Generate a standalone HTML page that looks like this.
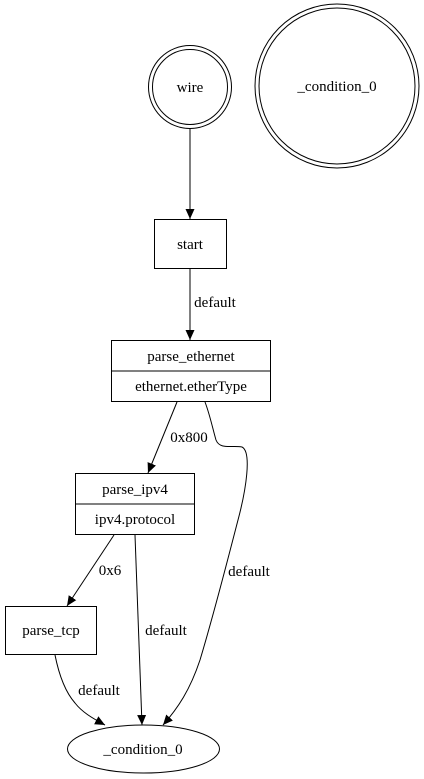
<!DOCTYPE html>
<html><head><style>body{margin:0;background:#fff}svg{display:block}text{font-family:"Liberation Serif","DejaVu Serif",Times,serif;font-size:15px}</style></head><body>
<svg width="424" height="779" viewBox="0 0 424 779" xmlns="http://www.w3.org/2000/svg">
<defs><marker id="a" markerWidth="10" markerHeight="10" refX="10" refY="5" orient="auto" markerUnits="userSpaceOnUse"><path d="M0,0.5 L10,5 L0,9.5 Z" fill="#000"/></marker></defs>
<g fill="none" stroke="#000" stroke-width="1">
<circle cx="190" cy="87" r="41.5"/><circle cx="190" cy="87" r="37.5"/>
<circle cx="337" cy="86" r="82"/><circle cx="337" cy="86" r="78"/>
<rect x="154.5" y="219.5" width="72" height="49"/>
<rect x="111.5" y="340.5" width="159" height="61"/><line x1="111.5" y1="371" x2="270.5" y2="371"/>
<rect x="75.5" y="473.5" width="119" height="61"/><line x1="75.5" y1="504" x2="194.5" y2="504"/>
<rect x="5.5" y="606.5" width="91" height="48"/>
<ellipse cx="143.5" cy="749" rx="76" ry="24"/>
<path d="M190,129 L190,219" marker-end="url(#a)"/>
<path d="M190,269 L190,340" marker-end="url(#a)"/>
<path d="M177,402 L148,473" marker-end="url(#a)"/>
<path d="M205,402 C210,415 213,430 216,440 C220,450 232,445 242,447 C252,452 246,490 238,520 C225,570 215,610 200,660 C190,690 178,708 163,725" marker-end="url(#a)"/>
<path d="M114,535 L67,606" marker-end="url(#a)"/>
<path d="M135,535 L142,725" marker-end="url(#a)"/>
<path d="M55,655 C60,680 68,695 75,703 C82,712 92,718 105,725" marker-end="url(#a)"/>
</g>
<g fill="#000" text-anchor="middle">
<text x="190" y="92">wire</text>
<text x="337" y="91">_condition_0</text>
<text x="190" y="249">start</text>
<text x="191" y="361">parse_ethernet</text>
<text x="191" y="391">ethernet.etherType</text>
<text x="135" y="494">parse_ipv4</text>
<text x="135" y="524">ipv4.protocol</text>
<text x="51" y="635">parse_tcp</text>
<text x="143" y="754">_condition_0</text>
<text x="215" y="307">default</text>
<text x="189" y="442">0x800</text>
<text x="249" y="576">default</text>
<text x="110" y="575">0x6</text>
<text x="166" y="635">default</text>
<text x="99" y="695">default</text>
</g>
</svg>
</body></html>
